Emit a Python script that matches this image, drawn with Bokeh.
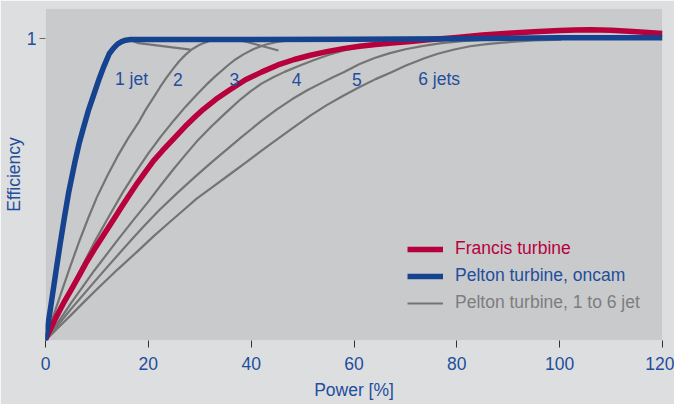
from bokeh.plotting import figure
from bokeh.models import Legend, LegendItem, FixedTicker, Range1d
from bokeh.core.properties import value
from bokeh.embed import file_html
from bokeh.resources import INLINE

# ---------------- data ----------------
power_oncam = [0, 1, 2, 2.85, 3.7, 4.5, 5.7, 6.5, 7.3, 8.4, 9.5, 10.5, 11.4, 12.4, 13.2, 14, 14.8, 15.6, 16.5, 20, 40, 60, 80, 100, 120]
eff_oncam = [0, 0.11, 0.225, 0.32, 0.41, 0.49, 0.59, 0.65, 0.7, 0.765, 0.82, 0.87, 0.91, 0.95, 0.968, 0.982, 0.99, 0.995, 0.997, 0.997, 0.997, 0.998, 1.0, 1.003, 1.003]

power_francis = [0, 1, 2, 3.7, 5.4, 6.7, 8, 9.8, 11.7, 13.4, 15, 16.5, 18, 19.5, 21, 22.7, 24.4, 26, 27.5, 29.1, 30.7, 33.2, 35.8, 38.9, 42.1, 45.2, 48.4, 51.5, 54.7, 57.9, 61.1, 64.2, 67.4, 71, 75, 80, 85, 90, 95, 100, 103, 106, 110, 115, 120]
eff_francis = [0.005, 0.04, 0.075, 0.13, 0.18, 0.22, 0.26, 0.31, 0.36, 0.405, 0.448, 0.487, 0.525, 0.56, 0.595, 0.628, 0.659, 0.688, 0.715, 0.741, 0.766, 0.8, 0.83, 0.864, 0.89, 0.913, 0.931, 0.945, 0.957, 0.967, 0.975, 0.981, 0.986, 0.991, 0.997, 1.004, 1.012, 1.018, 1.023, 1.027, 1.029, 1.03, 1.028, 1.023, 1.017]

jet1_x = [0, 1, 2, 2.85, 3.7, 4.5, 5.7, 6.5, 7.3, 8.4, 9.5, 10.5, 11.4, 12.4, 13.2, 14, 14.8, 15.6, 16.5, 18.1, 28.2]
jet1_y = [0, 0.11, 0.225, 0.32, 0.41, 0.49, 0.59, 0.65, 0.7, 0.765, 0.82, 0.87, 0.91, 0.95, 0.968, 0.982, 0.99, 0.995, 0.995, 0.985, 0.964]

jet2_x = [0, 1.5, 3, 4.8, 6.6, 8.3, 10, 12, 14, 16, 18, 19.5, 21, 22.3, 23.5, 24.8, 26, 27.3, 28.5, 29.8, 31, 32, 33, 37, 39, 45.3]
jet2_y = [0, 0.08, 0.155, 0.245, 0.33, 0.405, 0.475, 0.545, 0.61, 0.668, 0.72, 0.765, 0.805, 0.84, 0.87, 0.9, 0.925, 0.948, 0.965, 0.978, 0.987, 0.993, 0.996, 0.997, 0.99, 0.961]

jet3_x = [0, 2, 4, 6.8, 9.5, 12.3, 15, 17.5, 20, 22.5, 25, 27.2, 29.4, 31.2, 33, 35.5, 37, 38.5, 40.5, 42.7, 45, 47.8, 52]
jet3_y = [0, 0.072, 0.14, 0.235, 0.325, 0.41, 0.49, 0.557, 0.62, 0.677, 0.73, 0.774, 0.814, 0.846, 0.875, 0.912, 0.932, 0.948, 0.966, 0.98, 0.989, 0.995, 0.997]

jet4_x = [0, 2.5, 5, 9.5, 13.9, 17, 20, 22.5, 25, 27.2, 29.4, 32.2, 35.1, 38, 40, 42, 44.3, 46.5, 49, 52, 55, 58, 61, 64, 67, 70, 76]
jet4_y = [0, 0.062, 0.125, 0.232, 0.33, 0.397, 0.46, 0.516, 0.57, 0.615, 0.659, 0.708, 0.755, 0.8, 0.827, 0.851, 0.872, 0.89, 0.908, 0.928, 0.946, 0.961, 0.972, 0.981, 0.988, 0.993, 0.997]

jet5_x = [0, 2.5, 5, 10.8, 16.5, 19.3, 22, 25.7, 29.4, 32.4, 35.4, 38, 40, 42, 45, 48, 51, 54, 56, 58, 61, 64, 67, 70, 73.5, 77, 81, 85, 90]
jet5_y = [0, 0.053, 0.105, 0.22, 0.33, 0.382, 0.43, 0.49, 0.547, 0.592, 0.635, 0.672, 0.7, 0.728, 0.766, 0.8, 0.83, 0.856, 0.873, 0.889, 0.915, 0.936, 0.952, 0.965, 0.976, 0.985, 0.992, 0.996, 0.998]

jet6_x = [0, 2.5, 5, 7.5, 10, 14, 18, 21, 24, 26.7, 29.4, 32.6, 35.8, 39, 42.1, 45.3, 48.4, 51.5, 54.7, 58, 61.1, 64.2, 67.4, 70, 73.7, 76.3, 79.5, 82.6, 85.8, 88.9, 92, 95, 100.3]
jet6_y = [0, 0.043, 0.085, 0.128, 0.17, 0.235, 0.297, 0.345, 0.39, 0.43, 0.47, 0.51, 0.55, 0.59, 0.63, 0.67, 0.708, 0.745, 0.78, 0.812, 0.84, 0.866, 0.89, 0.91, 0.935, 0.95, 0.964, 0.975, 0.982, 0.987, 0.991, 0.994, 0.997]

jet_label_x = [13.5, 24.8, 35.8, 47.9, 59.6, 72.5]
jet_label_y = [0.865, 0.865, 0.865, 0.865, 0.865, 0.865]
jet_label_text = ["1 jet", "2", "3", "4", "5", "6 jets"]

x_ticks = [0, 20, 40, 60, 80, 100, 120]
y_ticks = [1]

# ---------------- style ----------------
BLUE = "#16438f"
TXT_BLUE = "#1f4e9c"
RED = "#b8003c"
GRAY = "#747474"
GRAY_TXT = "#7d7d7d"
FONT = "Liberation Sans"
FS = "17.5px"

p = figure(width=674, height=404, x_range=Range1d(0, 120), y_range=Range1d(0, 1.1),
           output_backend="svg", toolbar_location=None,
           min_border_left=43, min_border_right=12, min_border_top=8, min_border_bottom=64,
           background_fill_color="#c9cacc", border_fill_color="#dddee0",
           outline_line_color=None)
p.grid.visible = False

xa = p.xaxis[0]
xa.ticker = FixedTicker(ticks=x_ticks)
xa.axis_line_color = None
xa.major_tick_in = 0
xa.major_tick_out = 7
xa.major_tick_line_color = "#333333"
xa.minor_tick_line_color = None
xa.major_label_text_font = FONT
xa.major_label_text_font_size = FS
xa.major_label_text_color = TXT_BLUE
xa.major_label_standoff = 9
xa.axis_label = "Power [%]"
xa.axis_label_text_font = FONT
xa.axis_label_text_font_size = FS
xa.axis_label_text_font_style = "normal"
xa.axis_label_text_color = TXT_BLUE
xa.axis_label_standoff = 7

ya = p.yaxis[0]
ya.ticker = FixedTicker(ticks=y_ticks)
ya.axis_line_color = None
ya.major_tick_in = 0
ya.major_tick_out = 6
ya.major_tick_line_color = "#666666"
ya.minor_tick_line_color = None
ya.major_label_text_font = FONT
ya.major_label_text_font_size = FS
ya.major_label_text_color = TXT_BLUE
ya.major_label_standoff = 3
ya.axis_label = "Efficiency"
ya.axis_label_text_font = FONT
ya.axis_label_text_font_size = FS
ya.axis_label_text_font_style = "normal"
ya.axis_label_text_color = TXT_BLUE
ya.axis_label_standoff = 0

grays = []
for xs, ys in [(jet1_x, jet1_y), (jet2_x, jet2_y), (jet3_x, jet3_y),
               (jet4_x, jet4_y), (jet5_x, jet5_y), (jet6_x, jet6_y)]:
    grays.append(p.line(xs, ys, line_color=GRAY, line_width=2.2, line_join="round"))

r_red = p.line(power_francis, eff_francis, line_color=RED, line_width=5.5, line_join="round")
r_blue = p.line(power_oncam, eff_oncam, line_color=BLUE, line_width=5.5, line_join="round")

p.text(x=jet_label_x, y=jet_label_y, text=jet_label_text, text_font=value(FONT),
       text_font_size=value(FS), text_color=TXT_BLUE, text_baseline="alphabetic", text_align="left")

def add_leg(label, rend, color, y):
    leg = Legend(items=[LegendItem(label=label, renderers=[rend])], location=(362, y),
                 label_text_color=color, label_text_font=FONT, label_text_font_size=FS,
                 glyph_width=36, glyph_height=20, label_height=20, label_standoff=12,
                 padding=0, margin=0, border_line_alpha=0, background_fill_alpha=0)
    p.add_layout(leg)

add_leg("Francis turbine", r_red, RED, 81)
add_leg("Pelton turbine, oncam", r_blue, TXT_BLUE, 54)
add_leg("Pelton turbine, 1 to 6 jet", grays[5], GRAY_TXT, 27)

open("out.html", "w").write(file_html(p, INLINE))
